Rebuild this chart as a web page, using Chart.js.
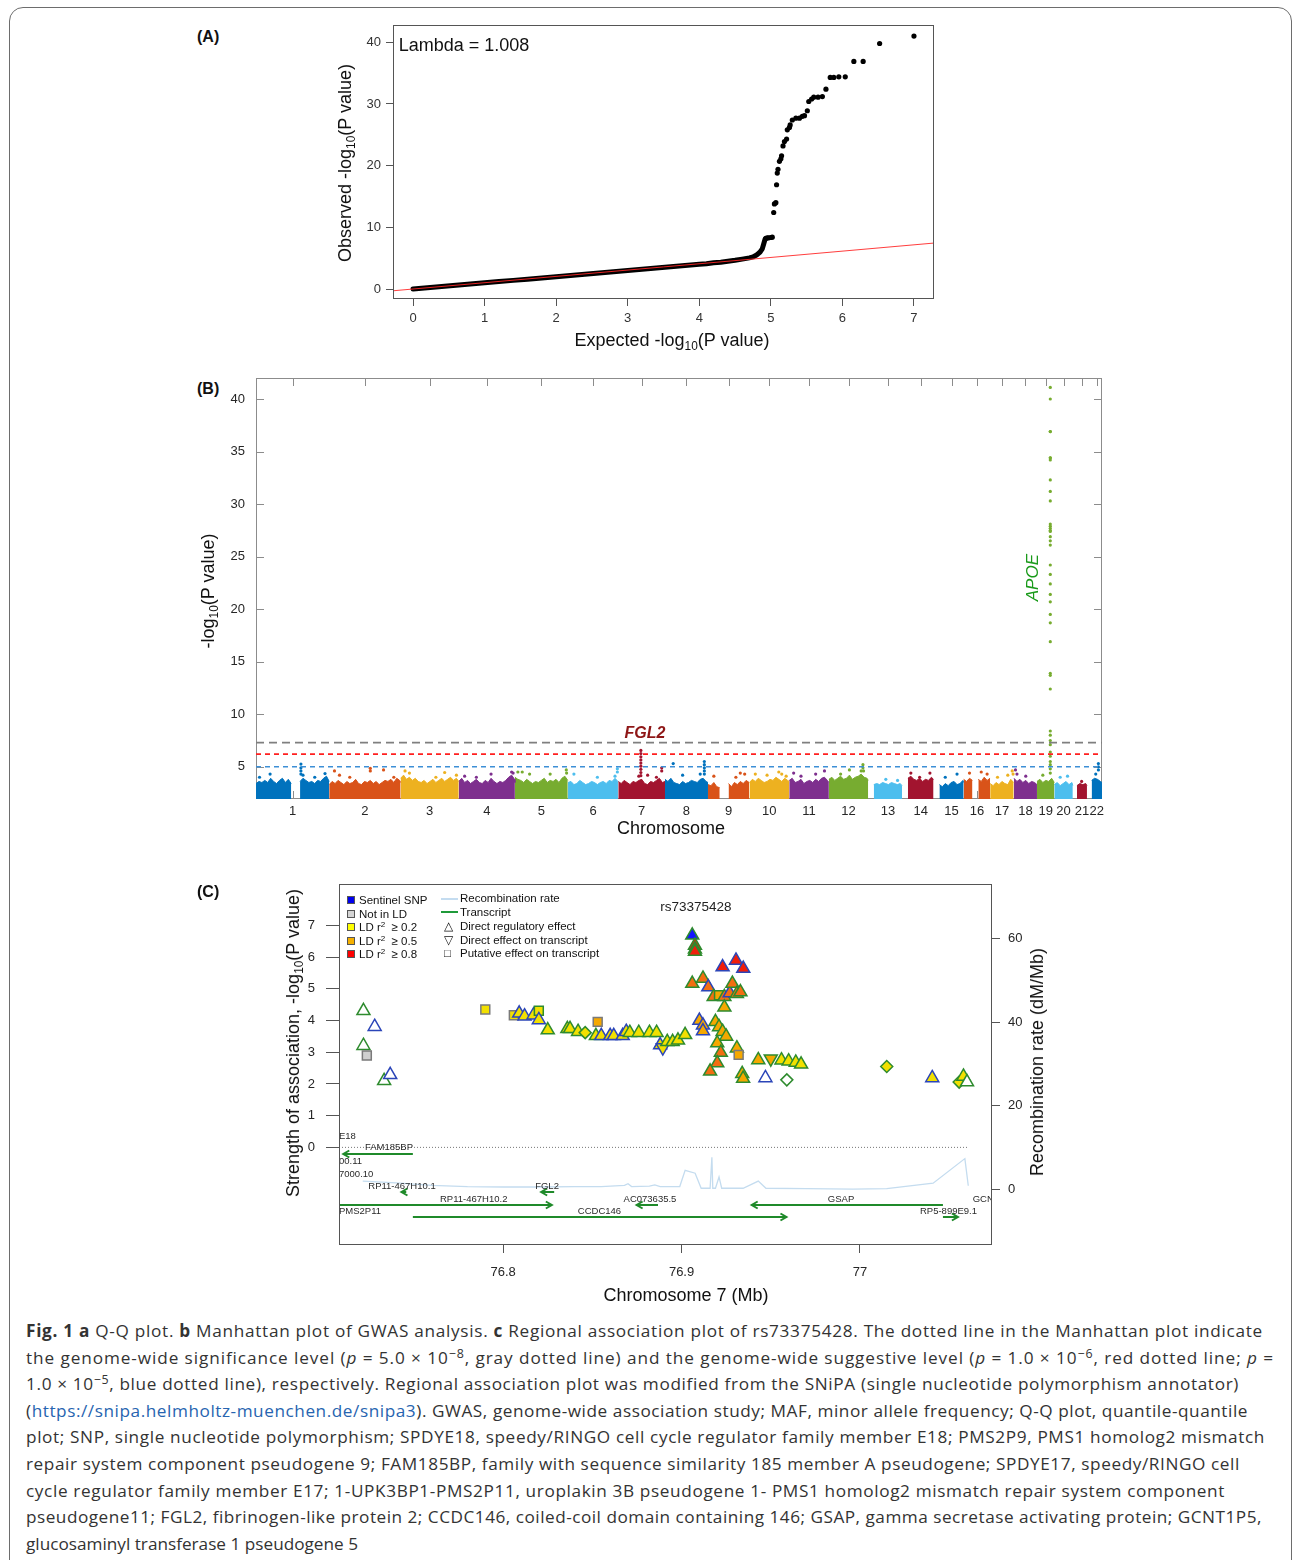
<!DOCTYPE html>
<html>
<head>
<meta charset="utf-8">
<title>Fig. 1</title>
<script src="https://cdn.jsdelivr.net/npm/chart.js@4.4.1/dist/chart.umd.min.js"></script>
<style>
html, body { margin: 0; padding: 0; background: #fff; }
#page { position: relative; width: 1293px; height: 1560px; overflow: hidden; font-family: "Liberation Sans", Arial, sans-serif; color: #222; }
#frame { position: absolute; left: 9px; top: 7px; width: 1283px; height: 1640px; border: 1.5px solid #6d6d6d; border-radius: 14px; box-sizing: border-box; }
canvas { position: absolute; }
.t { position: absolute; white-space: nowrap; line-height: 1; }
.c { transform: translate(-50%, -50%); }
.r { transform: translate(-50%, -50%) rotate(-90deg); }
.pl { font-weight: bold; font-size: 16px; color: #111; }
.ax { font-size: 18px; color: #111; }
.t sub { font-size: 0.66em; vertical-align: -0.35em; line-height: 0; }
.lg { position: absolute; font-size: 11.5px; white-space: nowrap; line-height: 14px; color: #111; }
.lg sup { font-size: 0.7em; vertical-align: 0.45em; line-height: 0; }
.sq { position: absolute; width: 6px; height: 6px; border: 1px solid #555; }
.ln { position: absolute; width: 17px; height: 0; }
#cap { position: absolute; left: 26px; top: 1318px; font-family: "Open Sans", "Noto Sans", sans-serif; font-size: 17.2px; line-height: 26.6px; color: #333; }
#cap div { white-space: nowrap; }
#cap sup { font-size: 0.72em; vertical-align: 0.5em; line-height: 0; }
#cap a { color: #2764b0; text-decoration: none; }
</style>
</head>
<body>
<div id="page">
  <div id="frame"></div>

  <!-- panel A -->
  <div class="t pl" style="left:197px;top:29px">(A)</div>
  <canvas id="qq" width="620" height="340" style="left:330px;top:15px"></canvas>
  <div class="t c" style="left:464px;top:45px;font-size:18px;color:#111">Lambda = 1.008</div>
  <div class="t r ax" style="left:345px;top:163px">Observed -log<sub>10</sub>(P value)</div>
  <div class="t c ax" style="left:672px;top:340px">Expected -log<sub>10</sub>(P value)</div>

  <!-- panel B -->
  <div class="t pl" style="left:197px;top:381px">(B)</div>
  <canvas id="man" width="920" height="470" style="left:190px;top:370px"></canvas>
  <div class="t r ax" style="left:208px;top:591px">-log<sub>10</sub>(P value)</div>
  <div class="t c ax" style="left:671px;top:828px">Chromosome</div>

  <!-- panel C -->
  <div class="t pl" style="left:197px;top:884px">(C)</div>
  <canvas id="reg" width="790" height="420" style="left:280px;top:875px"></canvas>
  <div class="t r ax" style="left:293px;top:1043px">Strength of association, -log<sub>10</sub>(P value)</div>
  <div class="t r ax" style="left:1037px;top:1062px">Recombination rate (dM/Mb)</div>
  <div class="t c ax" style="left:686px;top:1295px">Chromosome 7 (Mb)</div>

  <!-- panel C legend -->
  <div class="sq" style="left:347px;top:896px;background:#0000ee"></div>
  <div class="lg" style="left:359px;top:893px">Sentinel SNP</div>
  <div class="sq" style="left:347px;top:910px;background:#d4d4d4"></div>
  <div class="lg" style="left:359px;top:907px">Not in LD</div>
  <div class="sq" style="left:347px;top:923px;background:#ffff00"></div>
  <div class="lg" style="left:359px;top:920px">LD r<sup>2</sup> &nbsp;≥ 0.2</div>
  <div class="sq" style="left:347px;top:937px;background:#f5b000"></div>
  <div class="lg" style="left:359px;top:934px">LD r<sup>2</sup> &nbsp;≥ 0.5</div>
  <div class="sq" style="left:347px;top:950px;background:#ff0000"></div>
  <div class="lg" style="left:359px;top:947px">LD r<sup>2</sup> &nbsp;≥ 0.8</div>
  <div class="ln" style="left:441px;top:898px;border-top:2px solid #c4dcf0"></div>
  <div class="lg" style="left:460px;top:891px">Recombination rate</div>
  <div class="ln" style="left:441px;top:911px;border-top:2px solid #1f9a3a"></div>
  <div class="lg" style="left:460px;top:905px">Transcript</div>
  <div class="lg" style="left:444px;top:919px">△</div>
  <div class="lg" style="left:460px;top:919px">Direct regulatory effect</div>
  <div class="lg" style="left:444px;top:933px">▽</div>
  <div class="lg" style="left:460px;top:933px">Direct effect on transcript</div>
  <div class="lg" style="left:444px;top:946px">□</div>
  <div class="lg" style="left:460px;top:946px">Putative effect on transcript</div>

  <div id="cap">
    <div data-w="1237"><b>Fig. 1</b> <b>a</b> Q-Q plot. <b>b</b> Manhattan plot of GWAS analysis. <b>c</b> Regional association plot of rs73375428. The dotted line in the Manhattan plot indicate</div>
    <div data-w="1248">the genome-wide significance level (<i>p</i> = 5.0 × 10<sup>−8</sup>, gray dotted line) and the genome-wide suggestive level (<i>p</i> = 1.0 × 10<sup>−6</sup>, red dotted line; <i>p</i> =</div>
    <div data-w="1213">1.0 × 10<sup>−5</sup>, blue dotted line), respectively. Regional association plot was modified from the SNiPA (single nucleotide polymorphism annotator)</div>
    <div data-w="1222">(<a>https://snipa.helmholtz-muenchen.de/snipa3</a>). GWAS, genome-wide association study; MAF, minor allele frequency; Q-Q plot, quantile-quantile</div>
    <div data-w="1239">plot; SNP, single nucleotide polymorphism; SPDYE18, speedy/RINGO cell cycle regulator family member E18; PMS2P9, PMS1 homolog2 mismatch</div>
    <div data-w="1214">repair system component pseudogene 9; FAM185BP, family with sequence similarity 185 member A pseudogene; SPDYE17, speedy/RINGO cell</div>
    <div data-w="1199">cycle regulator family member E17; 1-UPK3BP1-PMS2P11, uroplakin 3B pseudogene 1- PMS1 homolog2 mismatch repair system component</div>
    <div data-w="1236">pseudogene11; FGL2, fibrinogen-like protein 2; CCDC146, coiled-coil domain containing 146; GSAP, gamma secretase activating protein; GCNT1P5,</div>
    <div>glucosaminyl transferase 1 pseudogene 5</div>
  </div>
</div>

<script>
// ---------- Data: (A) Q-Q plot ----------
const qqTicksX = [0, 1, 2, 3, 4, 5, 6, 7];
const qqTicksY = [0, 10, 20, 30, 40];
// dense run of points along the diagonal
const qqBandExp = [0, 0.2, 0.4, 0.6, 0.8, 1.0, 1.2, 1.4, 1.6, 1.8, 2.0, 2.2, 2.4, 2.6, 2.8, 3.0, 3.2, 3.4, 3.6, 3.8, 4.0, 4.1, 4.2, 4.3, 4.4, 4.5, 4.6, 4.7, 4.75, 4.8, 4.85, 4.88, 4.9, 4.92];
const qqBandObs = [0, 0.2, 0.4, 0.6, 0.8, 1.0, 1.2, 1.4, 1.6, 1.8, 2.0, 2.2, 2.4, 2.6, 2.8, 3.0, 3.2, 3.4, 3.6, 3.8, 4.0, 4.1, 4.25, 4.35, 4.5, 4.65, 4.85, 5.05, 5.2, 5.5, 6.0, 6.5, 7.3, 8.1];
// separate points of the tail
const qqTailExp = [4.93, 4.95, 4.97, 5.0, 5.02, 5.04, 5.05, 5.07, 5.08, 5.09, 5.10, 5.12, 5.14, 5.15, 5.17, 5.19, 5.22, 5.23, 5.26, 5.27, 5.30, 5.35, 5.40, 5.44, 5.47, 5.51, 5.53, 5.57, 5.60, 5.66, 5.72, 5.77, 5.83, 5.88, 5.95, 6.04, 6.16, 6.29, 6.52, 7.0];
const qqTailObs = [8.2, 8.3, 8.3, 8.35, 8.4, 12.4, 13.8, 14.0, 16.9, 18.8, 19.4, 20.7, 21.1, 21.6, 23.2, 23.9, 24.3, 25.8, 26.2, 26.6, 27.4, 27.7, 27.7, 28.0, 28.1, 28.9, 30.4, 30.8, 31.1, 31.1, 31.2, 32.4, 34.3, 34.3, 34.4, 34.4, 36.9, 36.9, 39.8, 41.0];
const qqNullExp = [-0.28, 7.28];
const qqNullObs = [-0.29, 7.45];

// ---------- Data: (B) Manhattan plot ----------
const chrLabels = ['1','2','3','4','5','6','7','8','9','10','11','12','13','14','15','16','17','18','19','20','21','22'];
const chrLenMb = [249.3, 243.2, 198.0, 191.2, 180.9, 171.1, 159.1, 146.4, 141.2, 135.5, 135.0, 133.9, 115.2, 107.3, 102.5, 90.4, 81.2, 78.1, 59.1, 63.0, 48.1, 51.3];
const chrFirstMb = [0, 0, 0, 0, 0, 0, 0, 0, 0, 0, 0, 0, 19, 20, 20, 0, 0, 0, 0, 0, 14, 16];
const bandStepMb = 10;
// top of the dense cloud of SNPs, read every 10 Mb (null = no SNPs)
const chrBandTop = [
  [3.4,3.6,3.5,3.7,3.5,3.9,3.6,3.4,3.7,3.9,3.5,3.8,3.4,null,null,3.6,3.9,3.7,3.5,3.6,3.4,3.7,3.6,3.9,4.1,3.6],
  [3.3,3.6,3.4,3.7,3.5,3.3,3.6,3.4,3.5,3.8,3.4,3.3,3.6,3.5,3.7,3.4,3.6,3.3,3.5,3.7,3.6,3.8,3.5,3.9,3.7,3.5],
  [3.9,4.2,3.8,4.0,3.7,3.9,3.6,3.5,3.7,3.4,3.6,3.8,3.5,3.7,3.9,3.6,3.8,4.0,3.7,3.9,3.6],
  [3.6,3.9,3.5,3.7,3.4,3.6,3.8,3.5,3.4,3.7,3.5,3.9,3.6,3.4,3.6,3.5,3.7,4.0,4.2,3.8,3.5],
  [4.0,3.8,3.7,3.5,3.8,3.6,3.4,3.6,3.5,3.7,3.9,3.5,3.7,3.6,3.8,3.5,3.9,4.1,3.7],
  [3.5,3.6,3.3,3.4,3.7,3.5,3.3,3.4,3.6,3.5,3.3,3.5,3.6,3.4,3.7,3.6,3.9,3.6],
  [3.6,3.4,3.7,3.5,3.3,3.6,3.5,3.7,3.8,3.4,3.3,3.6,3.5,3.7,3.9,3.5,3.6],
  [3.8,3.6,3.9,3.5,3.4,3.3,3.6,3.4,3.5,3.7,3.6,3.5,3.8,3.9,3.6,3.5],
  [3.3,3.2,3.5,3.1,3.0,null,null,3.4,3.1,3.5,3.3,3.6,3.4,3.7,3.5],
  [3.5,3.8,3.6,3.9,3.7,3.5,3.6,3.8,3.7,4.0,3.8,3.6,3.9,3.7,3.6],
  [3.7,3.9,3.5,3.6,3.8,3.4,3.6,3.7,3.5,3.8,3.6,3.9,4.0,3.7,3.5],
  [3.8,4.0,3.7,3.9,4.1,3.8,3.9,4.2,3.8,4.0,4.1,4.3,4.0,3.9,3.7],
  [3.3,3.4,3.3,3.5,3.4,3.3,3.5,3.4,3.3,3.4,3.2],
  [3.9,4.1,3.8,3.7,3.9,3.6,3.8,3.7,4.0,3.8],
  [3.3,3.1,3.4,3.2,3.5,3.6,3.3,3.4,3.7,3.5],
  [3.8,3.6,3.9,3.7,null,3.8,3.6,4.0,3.7,3.9],
  [3.4,3.2,3.5,3.3,3.6,3.4,3.3,3.8,3.5],
  [3.9,3.6,3.8,3.5,3.7,3.4,3.6,3.5,3.3],
  [3.6,3.8,3.5,3.7,3.6,3.9,3.5],
  [3.3,3.5,3.2,3.4,3.6,3.3,3.5,3.2],
  [3.2,3.4,3.3,3.4,3.2],
  [3.7,3.9,3.8,3.6,3.5]
];
// single SNPs standing above the cloud (chromosome, Mb, -log10 p)
const hitChr = [1,1,1,1,1,1,1,1,1, 2,2,2,2,2,2,2, 3,3,3,3,3, 4,4,4,4,4, 5,5,5,5,5,5, 6,6,6,6,6,
  7,7,7,7,7,7,7,7,7,7,7,7,7,7, 8,8,8,8,8,8,8,8, 9,9,9,9, 10,10,10,10,10, 11,11,11,11, 12,12,12,12,12,12,
  13,13, 14,14,14, 15,15, 16,16,16, 17,17,17,17, 18,18,18, 19, 20,20, 21, 22,22,22,22];
const hitMb = [12,48,153,153,153,153,160,200,235, 18,35,70,140,140,185,220, 15,30,120,150,190, 20,60,110,180,185, 10,25,50,120,175,176, 20,100,160,168,168,
  76.9,76.9,76.9,76.9,76.9,76.9,76.9,76.9,76.9,70,100,130,148,148, 28,134,134,134,134,134,60,120, 20,95,110,125, 20,60,100,110,125, 15,40,90,120, 40,70,110,116,116,118,
  60,100, 30,60,95, 40,80, 20,60,80, 25,60,75,78, 5,10,40, 20, 20,45, 30, 39,39,39,30];
const hitLogP = [4.0,4.3,5.25,4.9,4.6,4.3,4.2,4.0,4.35, 4.6,4.2,4.0,4.85,4.6,4.7,4.0, 4.6,4.4,4.0,4.45,4.2, 4.1,4.0,4.3,4.5,4.4, 4.5,4.5,4.3,4.3,4.7,4.4, 4.3,4.0,4.1,4.8,4.5,
  6.55,6.25,5.95,5.65,5.35,5.05,4.75,4.45,4.15,4.1,4.2,4.0,4.9,4.6, 5.3,5.5,5.2,4.9,4.6,4.3,4.2,4.3, 4.1,4.0,4.4,4.3, 4.3,4.2,4.5,4.3,4.1, 4.4,4.1,4.3,4.6, 4.3,4.7,4.6,5.2,4.9,4.6,
  3.8,3.7, 4.4,4.0,4.4, 4.0,4.3, 4.4,4.5,4.3, 4.0,4.2,4.6,4.3, 4.7,4.3,4.1, 4.2, 4.0,4.1, 3.6, 5.3,5.0,4.7,4.3];
// APOE column on chromosome 19
const apoeMb = 45.4;
const apoeLogP = [41.1,40.0,36.9,36.9,34.4,34.4,34.2,32.3,31.2,30.3,28.1,27.9,27.7,27.5,27.4,26.9,26.5,26.1,24.2,23.3,22.4,21.4,20.7,19.5,18.7,16.9,13.9,13.7,12.4,8.4,8.0,7.5,7.1,6.4,6.0,5.5,5.2,4.8,4.4];
const manTicksY = [5, 10, 15, 20, 25, 30, 35, 40];
const sigLevels = [7.3, 6.2, 5.0];   // genome-wide, suggestive (red), 1e-5 (blue)
const manNotes = [
  { text: 'FGL2', chr: 7, mb: 91, logp: 8.2 },
  { text: 'APOE', chr: 19, mb: -13.5, logp: 23.0 }
];

// ---------- Data: (C) regional plot ----------
const regTicksX = [76.8, 76.9, 77.0];
const regTickLabels = ['76.8', '76.9', '77'];
const regTicksY = [0, 1, 2, 3, 4, 5, 6, 7];
const recTicks = [0, 20, 40, 60];
// LD: sentinel, none (not in LD), y (r2>=0.2), o (>=0.5), d (darker orange), r (>=0.8), w (open)
// shape: tri (regulatory), down (effect on transcript), sq (putative), dia (other); edge: g, b, k
const snpMb = [76.9060, 76.9075, 76.9075, 76.9075,
  76.7217, 76.7280, 76.7217, 76.7236, 76.7333, 76.7367, 76.7900, 76.8060, 76.8090, 76.8120, 76.8170, 76.8200, 76.8200, 76.8250,
  76.8360, 76.8375, 76.8420, 76.8460, 76.8530, 76.8520, 76.8550, 76.8600, 76.8620, 76.8670, 76.8690, 76.8710, 76.8760, 76.8820,
  76.8860, 76.8880, 76.8895, 76.8920, 76.8950, 76.8980, 76.9020, 76.9060, 76.9120, 76.9150, 76.9230, 76.9305, 76.9346,
  76.9180, 76.9210, 76.9240, 76.9270, 76.9285, 76.9310, 76.9330, 76.9240, 76.9100, 76.9120, 76.9120, 76.9190, 76.9210, 76.9230,
  76.9250, 76.9200, 76.9220, 76.9200, 76.9160, 76.9310, 76.9320, 76.9340, 76.9345, 76.9470, 76.9430, 76.9500, 76.9560, 76.9600,
  76.9640, 76.9670, 76.9590, 77.0150, 77.0405, 77.0556, 77.0580, 77.0600];
const snpLogP = [6.69, 6.37, 6.25, 6.18,
  4.31, 3.81, 3.21, 2.90, 2.10, 2.29, 4.35, 4.17, 4.23, 4.14, 4.17, 4.31, 4.02, 3.70,
  3.74, 3.74, 3.65, 3.62, 3.96, 3.52, 3.52, 3.52, 3.52, 3.52, 3.65, 3.62, 3.62, 3.62,
  3.62, 3.23, 3.15, 3.33, 3.33, 3.38, 3.55, 5.17, 5.33, 5.06, 5.69, 5.90, 5.64,
  4.75, 4.80, 4.75, 4.87, 5.17, 4.85, 4.90, 4.42, 4.00, 3.85, 3.67, 3.96, 3.80, 3.65,
  3.50, 3.29, 2.99, 2.66, 2.40, 3.13, 2.92, 2.32, 2.17, 2.19, 2.76, 2.80, 2.75, 2.72,
  2.68, 2.62, 2.13, 2.55, 2.19, 2.06, 2.24, 2.06];
const snpLD = ['sentinel','r','r','r',
  'w','w','w','none','w','w','y','y','y','y','y','y','y','y',
  'y','y','y','y','o','y','y','y','y','y','y','y','y','y',
  'y','y','y','y','y','y','y','d','d','d','r','r','r',
  'd','o','d','d','d','d','d','o','o','o','o','o','o','o',
  'o','o','d','d','d','o','o','o','o','w','o','o','y','y',
  'y','y','w','y','y','y','y','w'];
const snpShape = ['tri','tri','tri','tri',
  'tri','tri','tri','sq','tri','tri','sq','sq','tri','tri','tri','sq','tri','tri',
  'tri','tri','tri','dia','sq','tri','tri','tri','tri','tri','tri','tri','tri','tri',
  'tri','tri','down','tri','tri','tri','tri','tri','tri','tri','tri','tri','tri',
  'tri','sq','tri','tri','tri','tri','tri','tri','tri','tri','tri','tri','tri','tri',
  'tri','tri','tri','tri','tri','tri','sq','tri','tri','tri','tri','down','tri','tri',
  'tri','tri','dia','dia','tri','dia','tri','tri'];
const snpEdge = ['g','g','g','g',
  'g','b','g','k','g','b','k','k','b','b','b','g','b','g',
  'g','g','g','g','k','g','b','b','b','b','b','g','g','g',
  'g','b','b','g','g','g','g','g','g','b','b','b','b',
  'g','g','g','b','g','g','g','g','b','b','b','g','g','g',
  'g','g','g','g','g','g','k','g','g','b','g','g','g','g',
  'g','g','g','g','b','g','g','g'];
// recombination rate (cM/Mb)
const recMb = [76.7213, 76.74, 76.76, 76.78, 76.80, 76.82, 76.84, 76.855, 76.868, 76.870, 76.872, 76.882, 76.885, 76.888, 76.899, 76.902, 76.9076, 76.911, 76.916, 76.917, 76.9175, 76.919, 76.921, 76.9225, 76.9345, 76.943, 76.9473, 76.97, 76.996, 77.015, 77.041, 77.0588, 77.0607];
const recRate = [1.9, 1.5, 0.9, 0.6, 0.5, 0.5, 0.6, 0.6, 0.9, 1.3, 0.6, 0.7, 1.0, 0.6, 0.6, 4.5, 3.8, 0.2, 0.2, 7.6, 0.2, 0.2, 2.9, 0.2, 0.2, 1.9, 0.2, 0.1, 0.0, 0.1, 1.4, 7.3, 0.8];
const regZeroMb = [76.708, 77.0607];
// transcripts
const geneName = ['FAM185BP', 'RP11-467H10.1', 'FGL2', 'RP11-467H10.2', 'AC073635.5', 'GSAP', 'CCDC146', 'RP5-899E9.1'];
const geneStart = [76.7104, 76.7430, 76.8213, 76.6900, 76.8748, 76.9393, 76.7494, 77.0465];
const geneEnd = [76.7494, 76.7457, 76.8286, 76.8273, 76.8868, 77.0465, 76.9588, 77.0549];
const geneStrand = [-1, -1, -1, 1, -1, -1, 1, 1];
const geneTrack = [-0.22, -1.41, -1.41, -1.82, -1.82, -1.82, -2.2, -2.2];
const geneLabelMb = [76.736, 76.7433, 76.8246, 76.7835, 76.8823, 76.9894, 76.854, 77.0496];
const geneLabelY = [0.0, -1.22, -1.22, -1.63, -1.63, -1.63, -2.03, -2.03];
// names of transcripts cut by the panel edges
const edgeLabel = ['E18', '00.11', '7000.10', 'PMS2P11', 'GCNT1P5'];
const edgeLabelMb = [76.708, 76.708, 76.708, 76.708, 77.0632];
const edgeLabelY = [0.36, -0.44, -0.85, -2.03, -1.63];

// ---------- Styles ----------
const FONT = '"Liberation Sans", Arial, sans-serif';
Chart.defaults.font.family = FONT;
Chart.defaults.color = '#262626';
Chart.defaults.animation = false;
Chart.defaults.plugins.legend.display = false;
Chart.defaults.plugins.tooltip.enabled = false;

const chrColor = ['#0072BD', '#D95319', '#EDB120', '#7E2F8E', '#77AC30', '#4DBEEE', '#A2142F'];
const ldFill = { sentinel: '#1414ff', none: '#cfcfcf', y: '#f2e000', o: '#f5a800', d: '#f26e12', r: '#f01e0a', w: '#ffffff' };
const edgeColor = { g: '#2e8b2e', b: '#2b45b8', k: '#7a7a7a' };
const shapeStyle = {
  tri: { style: 'triangle', rot: 0, r: 7.5 },
  down: { style: 'triangle', rot: 180, r: 7.5 },
  sq: { style: 'rect', rot: 0, r: 6.3 },
  dia: { style: 'rectRot', rot: 0, r: 6 }
};

// ---------- Helpers ----------
const xy = (xs, ys) => xs.map((x, i) => ({ x, y: ys[i] }));
const fixTicks = vals => scale => { scale.ticks = vals.map(v => ({ value: v })); };
// pin the axis sizes so the plot box lands where it should
const fitX = h => s => { s.height = h; s.paddingLeft = 0; s.paddingRight = 0; };
const fitY = w => s => { s.width = w; s.paddingTop = 0; s.paddingBottom = 0; };
const boxPlugin = color => ({
  id: 'box',
  afterDraw(chart) {
    const { ctx, chartArea: a } = chart;
    ctx.save();
    ctx.strokeStyle = color; ctx.lineWidth = 1;
    ctx.strokeRect(Math.round(a.left) + 0.5, Math.round(a.top) + 0.5, Math.round(a.width) - 1, Math.round(a.height) - 1);
    ctx.restore();
  }
});
const notesPlugin = items => ({
  id: 'notes',
  afterDatasetsDraw(chart) {
    const { ctx } = chart;
    items.forEach(n => {
      ctx.save();
      ctx.translate(chart.scales.x.getPixelForValue(n.x), chart.scales.y.getPixelForValue(n.y));
      if (n.rotate) ctx.rotate(n.rotate);
      ctx.font = n.font; ctx.fillStyle = n.color;
      ctx.textAlign = 'center'; ctx.textBaseline = 'middle';
      ctx.fillText(n.text, 0, 0);
      ctx.restore();
    });
  }
});

// ---------- (A) Q-Q ----------
new Chart(document.getElementById('qq'), {
  type: 'scatter',
  data: {
    datasets: [
      { type: 'line', data: xy(qqNullExp, qqNullObs), borderColor: 'rgba(255,40,40,0.9)', borderWidth: 1, pointRadius: 0 },
      { data: xy(qqTailExp, qqTailObs), pointRadius: 2.6, pointBackgroundColor: '#000', pointBorderWidth: 0 },
      { type: 'line', data: xy(qqBandExp, qqBandObs), borderColor: '#000', borderWidth: 5, borderCapStyle: 'round', borderJoinStyle: 'round', pointRadius: 0 }
    ]
  },
  options: {
    responsive: false,
    layout: { padding: { top: 10, right: 16, left: 0, bottom: 0 } },
    scales: {
      x: {
        type: 'linear', min: -0.28, max: 7.28,
        afterBuildTicks: fixTicks(qqTicksX),
        afterFit: fitX(56),
        border: { display: false },
        grid: { drawOnChartArea: false, drawTicks: true, tickLength: 7, color: '#555' },
        ticks: { font: { size: 13 }, color: '#333', padding: 5, maxRotation: 0, autoSkip: false }
      },
      y: {
        min: -1.62, max: 42.8,
        afterBuildTicks: fixTicks(qqTicksY),
        afterFit: fitY(63),
        border: { display: false },
        grid: { drawOnChartArea: false, drawTicks: true, tickLength: 7, color: '#555' },
        ticks: { font: { size: 13 }, color: '#333', padding: 5, autoSkip: false }
      }
    }
  },
  plugins: [boxPlugin('#555')]
});

// ---------- (B) Manhattan ----------
const chrStart = [];
chrLenMb.reduce((acc, len, i) => { chrStart[i] = acc; return acc + len; }, 0);
const genomeMb = chrStart[21] + chrLenMb[21];
const chrMid = chrLenMb.map((len, i) => chrStart[i] + (chrFirstMb[i] + len) / 2);

const bandSets = chrBandTop.map((tops, c) => ({
  type: 'line',
  data: tops.map((h, i) => ({ x: chrStart[c] + Math.min(chrFirstMb[c] + i * bandStepMb, chrLenMb[c]), y: h })),
  borderColor: chrColor[c % 7], backgroundColor: chrColor[c % 7],
  borderWidth: 1, pointRadius: 0, fill: 'start', spanGaps: false
}));
const hitPts = hitChr.map((c, i) => ({ x: chrStart[c - 1] + hitMb[i], y: hitLogP[i], c: c - 1 }))
  .concat(apoeLogP.map(v => ({ x: chrStart[18] + apoeMb, y: v, c: 18 })));
const sigColors = ['#7f7f7f', '#ff1f1f', '#3d8fd6'];
const sigDash = [[8, 5], [5, 4], [5, 4]];
const sigSets = sigLevels.map((lv, i) => ({
  type: 'line', data: [{ x: 0, y: lv }, { x: genomeMb, y: lv }],
  borderColor: sigColors[i], borderWidth: 1.6, borderDash: sigDash[i], pointRadius: 0
}));

const inwardTicks = {
  id: 'inward',
  beforeDatasetsDraw(chart) {
    const { ctx, chartArea: a, scales: { x, y } } = chart;
    ctx.save();
    ctx.strokeStyle = '#8c8c8c'; ctx.lineWidth = 1;
    ctx.strokeRect(Math.round(a.left) + 0.5, Math.round(a.top) + 0.5, Math.round(a.width) - 1, Math.round(a.height) - 1);
    ctx.beginPath();
    manTicksY.forEach(v => {
      const py = Math.round(y.getPixelForValue(v)) + 0.5;
      ctx.moveTo(a.left, py); ctx.lineTo(a.left + 8, py);
      ctx.moveTo(a.right, py); ctx.lineTo(a.right - 8, py);
    });
    chrMid.forEach(v => {
      const px = Math.round(x.getPixelForValue(v)) + 0.5;
      ctx.moveTo(px, a.top); ctx.lineTo(px, a.top + 8);
      ctx.moveTo(px, a.bottom); ctx.lineTo(px, a.bottom - 8);
    });
    ctx.stroke();
    ctx.restore();
  }
};

new Chart(document.getElementById('man'), {
  type: 'scatter',
  data: {
    datasets: [
      ...sigSets,
      { data: hitPts, pointRadius: 1.6, pointBorderWidth: 0, pointBackgroundColor: c => chrColor[(c.raw ? c.raw.c : 0) % 7] },
      ...bandSets
    ]
  },
  options: {
    responsive: false,
    layout: { padding: { top: 8, right: 8, left: 0, bottom: 0 } },
    scales: {
      x: {
        type: 'linear', min: 0, max: genomeMb,
        afterBuildTicks: fixTicks(chrMid),
        afterFit: fitX(41),
        border: { display: false }, grid: { display: false, drawTicks: false },
        ticks: { font: { size: 13 }, padding: 5, maxRotation: 0, autoSkip: false, callback: (v, i) => chrLabels[i] }
      },
      y: {
        min: 1.93, max: 42.0,
        afterBuildTicks: fixTicks(manTicksY),
        afterFit: fitY(66),
        border: { display: false }, grid: { display: false, drawTicks: false },
        ticks: { font: { size: 13 }, padding: 11, autoSkip: false }
      }
    }
  },
  plugins: [inwardTicks, notesPlugin(manNotes.map(n => ({
    text: n.text,
    x: chrStart[n.chr - 1] + n.mb, y: n.logp,
    rotate: n.text === 'APOE' ? -Math.PI / 2 : 0,
    font: n.text === 'APOE' ? 'italic 17px ' + FONT : 'italic bold 16px ' + FONT,
    color: n.text === 'APOE' ? '#1a9a1a' : '#8e1616'
  })))]
});

// ---------- (C) regional plot ----------
const genePlugin = {
  id: 'genes',
  afterDatasetsDraw(chart) {
    const { ctx, chartArea: a, scales: { x, y } } = chart;
    ctx.save();
    ctx.beginPath(); ctx.rect(a.left, a.top, a.width, a.height); ctx.clip();
    ctx.strokeStyle = '#1f8a2a'; ctx.lineWidth = 2;
    geneName.forEach((g, i) => {
      const x0 = x.getPixelForValue(geneStart[i]), x1 = x.getPixelForValue(geneEnd[i]);
      const py = Math.round(y.getPixelForValue(geneTrack[i]));
      ctx.beginPath(); ctx.moveTo(x0, py); ctx.lineTo(x1, py); ctx.stroke();
      const hx = geneStrand[i] > 0 ? x1 : x0, d = geneStrand[i] > 0 ? -1 : 1;
      ctx.beginPath(); ctx.moveTo(hx + d * 6, py - 3.5); ctx.lineTo(hx, py); ctx.lineTo(hx + d * 6, py + 3.5); ctx.stroke();
    });
    ctx.fillStyle = '#2a2a2a'; ctx.font = '9.5px ' + FONT; ctx.textBaseline = 'middle';
    ctx.textAlign = 'center';
    geneName.forEach((g, i) => ctx.fillText(g, x.getPixelForValue(geneLabelMb[i]), y.getPixelForValue(geneLabelY[i])));
    ctx.textAlign = 'left';
    edgeLabel.forEach((g, i) => ctx.fillText(g, x.getPixelForValue(edgeLabelMb[i]), y.getPixelForValue(edgeLabelY[i])));
    ctx.restore();
  }
};

const shapeOf = c => shapeStyle[snpShape[c.dataIndex]] || shapeStyle.tri;
new Chart(document.getElementById('reg'), {
  type: 'scatter',
  data: {
    datasets: [
      {
        data: xy(snpMb, snpLogP),
        pointStyle: c => shapeOf(c).style,
        pointRotation: c => shapeOf(c).rot,
        pointRadius: c => shapeOf(c).r,
        pointBackgroundColor: c => ldFill[snpLD[c.dataIndex]],
        pointBorderColor: c => edgeColor[snpEdge[c.dataIndex]],
        pointBorderWidth: 1.5
      },
      { type: 'line', yAxisID: 'yR', data: xy(recMb, recRate), borderColor: '#c4dcef', borderWidth: 1.3, pointRadius: 0 },
      { type: 'line', data: xy(regZeroMb, [0, 0]), borderColor: '#777', borderWidth: 1, borderDash: [1, 2], pointRadius: 0 }
    ]
  },
  options: {
    responsive: false,
    layout: { padding: { top: 7, right: 0, left: 0, bottom: 0 } },
    scales: {
      x: {
        type: 'linear', min: 76.708, max: 77.074,
        afterBuildTicks: fixTicks(regTicksX),
        afterFit: fitX(50),
        border: { display: false },
        grid: { drawOnChartArea: false, drawTicks: true, tickLength: 8, color: '#555' },
        ticks: { font: { size: 13 }, padding: 12, maxRotation: 0, autoSkip: false, callback: (v, i) => regTickLabels[i] }
      },
      y: {
        min: -3.08, max: 8.31,
        afterBuildTicks: fixTicks(regTicksY),
        afterFit: fitY(59),
        border: { display: false },
        grid: { drawOnChartArea: false, drawTicks: true, tickLength: 13, color: '#555' },
        ticks: { font: { size: 13 }, padding: 11, autoSkip: false }
      },
      yR: {
        position: 'right', min: -13.4, max: 73.1,
        afterBuildTicks: fixTicks(recTicks),
        afterFit: fitY(78),
        border: { display: false },
        grid: { drawOnChartArea: false, drawTicks: true, tickLength: 8, color: '#555' },
        ticks: { font: { size: 13 }, padding: 8, autoSkip: false }
      }
    }
  },
  plugins: [boxPlugin('#555'), genePlugin, notesPlugin([
    { text: 'rs73375428', x: 76.908, y: 7.56, font: '13.5px ' + FONT, color: '#222' }
  ])]
});

// ---------- Caption: fit each line to its width in the figure ----------
function fitCaption() {
  document.querySelectorAll('#cap div[data-w]').forEach(d => {
    d.style.letterSpacing = '0px';
    d.style.display = 'inline-block';
    const w = d.getBoundingClientRect().width;
    d.style.display = 'block';
    d.style.letterSpacing = ((+d.dataset.w - w) / d.textContent.length).toFixed(3) + 'px';
  });
}
fitCaption();
if (document.fonts && document.fonts.ready) document.fonts.ready.then(fitCaption);
</script>
</body>
</html>
